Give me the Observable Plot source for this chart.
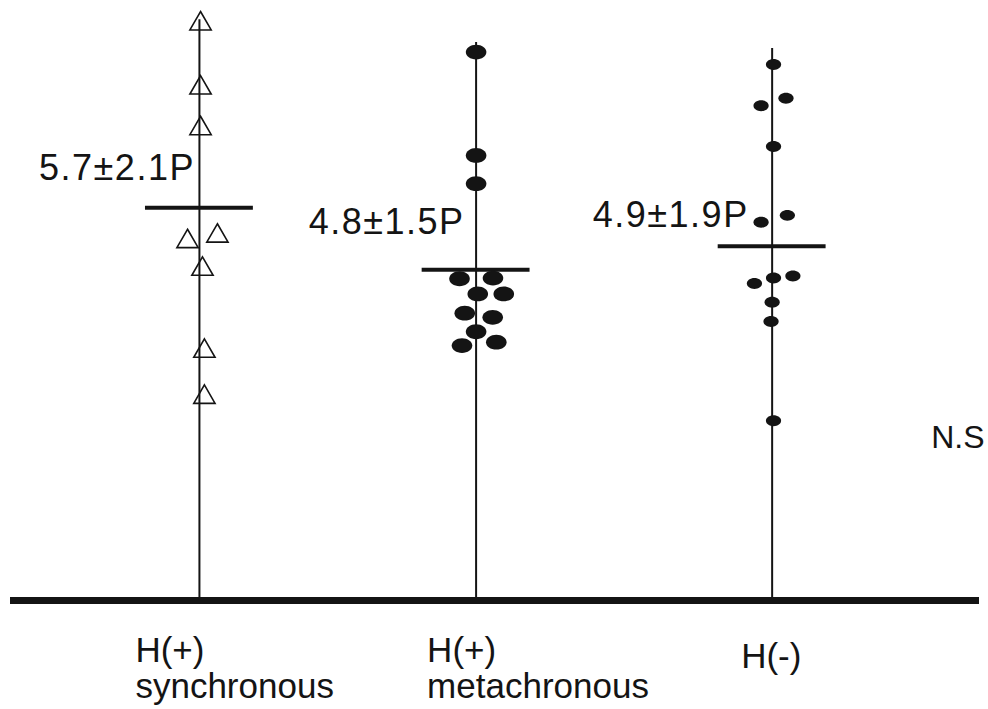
<!DOCTYPE html>
<html>
<head>
<meta charset="utf-8">
<script src="https://cdn.jsdelivr.net/npm/d3@7"></script>
<script src="https://cdn.jsdelivr.net/npm/@observablehq/plot@0.6"></script>
<style>
  html, body { margin: 0; padding: 0; background: #fff; }
  #chart svg { display: block; }
</style>
</head>
<body>
<div id="chart"></div>
<script>
// ---------- data ----------
const groupLabels = ["H(+)\nsynchronous", "H(+)\nmetachronous", "H(-)"];
const groupPos    = [1, 2, 3.07];                 // category positions on x
const lineTop     = [8.43, 8.10, 8.01];           // top of each vertical line
const meanValue   = [5.7, 4.8, 5.14];             // drawn mean bars
const meanLabel   = ["5.7±2.1P", "4.8±1.5P", "4.9±1.9P"];
const nsLabel     = "N.S";

const syncValues = [8.37, 7.44, 6.85, 5.29, 5.21, 4.81, 3.62, 2.95];
const syncJitter = [0.004, 0.004, 0.004, 0.065, -0.043, 0.011, 0.018, 0.018];

const metaValues = [7.96, 6.46, 6.05, 4.67, 4.68, 4.45, 4.45, 4.17, 4.11, 3.90, 3.70, 3.75];
const metaJitter = [0, 0, 0, -0.060, 0.061, 0.006, 0.100, -0.041, 0.060, 0, -0.051, 0.073];

const negValues = [7.78, 7.29, 7.18, 6.59, 5.49, 5.59, 4.60, 4.68, 4.71, 4.33, 4.05, 2.61];
const negJitter = [0.005, 0.050, -0.040, 0.005, -0.040, 0.055, -0.064, 0.005, 0.075, 0, -0.004, 0.005];

// ---------- layout (not data) ----------
const L = {
  meanHalf: 0.195,
  meanDx: [-4.5, -11.5, -23.5], meanDy: [-28, -36, -19],
  catDx: [-64, -49, -31], catDy: [35, 35, 41],
  nsX: 3.645, nsY: 2.22
};

const build = (vals, jit, gi) => vals.map((v, i) => ({x: groupPos[gi] + jit[i], value: v}));
const syncPts = build(syncValues, syncJitter, 0);
const metaPts = build(metaValues, metaJitter, 1);
const negPts  = build(negValues, negJitter, 2);
const groups = groupPos.map((p, i) => ({pos: p, top: lineTop[i], mean: meanValue[i]}));

function ellipseSymbol(aspect) {
  return {
    draw(ctx, size) {
      const rx = Math.sqrt(size / Math.PI), ry = rx * aspect, k = 0.5523;
      ctx.moveTo(rx, 0);
      ctx.bezierCurveTo(rx, ry * k, rx * k, ry, 0, ry);
      ctx.bezierCurveTo(-rx * k, ry, -rx, ry * k, -rx, 0);
      ctx.bezierCurveTo(-rx, -ry * k, -rx * k, -ry, 0, -ry);
      ctx.bezierCurveTo(rx * k, -ry, rx, -ry * k, rx, 0);
      ctx.closePath();
    }
  };
}

const font = "'Liberation Sans', Arial, Helvetica, sans-serif";
const ink = "#141414";

const marks = [
  // baseline
  Plot.ruleY([0], {stroke: ink, strokeWidth: 7, insetLeft: 10, insetRight: 9}),
  // vertical lines
  Plot.ruleX(groups, {x: "pos", y1: 0, y2: "top", stroke: ink, strokeWidth: 2}),
  // mean bars
  Plot.ruleY(groups, {y: "mean", x1: d => d.pos - L.meanHalf, x2: d => d.pos + L.meanHalf, stroke: ink, strokeWidth: 4}),
  // points
  Plot.dot(syncPts, {x: "x", y: "value", symbol: "triangle", r: 7.9, fill: "none", stroke: ink, strokeWidth: 1.6}),
  Plot.dot(metaPts, {x: "x", y: "value", symbol: ellipseSymbol(0.72), r: 10.3, fill: ink, stroke: "none"}),
  Plot.dot(negPts,  {x: "x", y: "value", symbol: ellipseSymbol(0.72), r: 7.6, fill: ink, stroke: "none"}),
  // N.S
  Plot.text([nsLabel], {x: () => L.nsX, y: () => L.nsY, text: d => d, textAnchor: "start", lineAnchor: "bottom",
    fontSize: 32, fontFamily: font, fill: ink})
];

groups.forEach((g, i) => {
  marks.push(Plot.text([meanLabel[i]], {x: () => g.pos, y: () => g.mean, text: d => d,
    textAnchor: "end", lineAnchor: "bottom", dx: L.meanDx[i], dy: L.meanDy[i],
    fontSize: 36, fontFamily: font, fill: ink}));
  marks.push(Plot.text([groupLabels[i]], {x: () => g.pos, y: () => 0, text: d => d,
    textAnchor: "start", lineAnchor: "top", lineHeight: 1.05, dx: L.catDx[i], dy: L.catDy[i],
    fontSize: 35, fontFamily: font, fill: ink}));
});

const svg = Plot.plot({
  width: 988,
  height: 709,
  marginTop: 0, marginBottom: 109, marginLeft: 0, marginRight: 0,
  x: {type: "linear", domain: [0.281, 3.852], axis: null},
  y: {type: "linear", domain: [0, 600 / 68.9], axis: null},
  style: {background: "#fff", fontFamily: font, overflow: "visible"},
  marks
});

d3.select(svg).selectAll("text")
  .filter(function() { return this.textContent.includes("±"); })
  .style("letter-spacing", "1.5px");

document.getElementById("chart").appendChild(svg);
</script>
</body>
</html>
